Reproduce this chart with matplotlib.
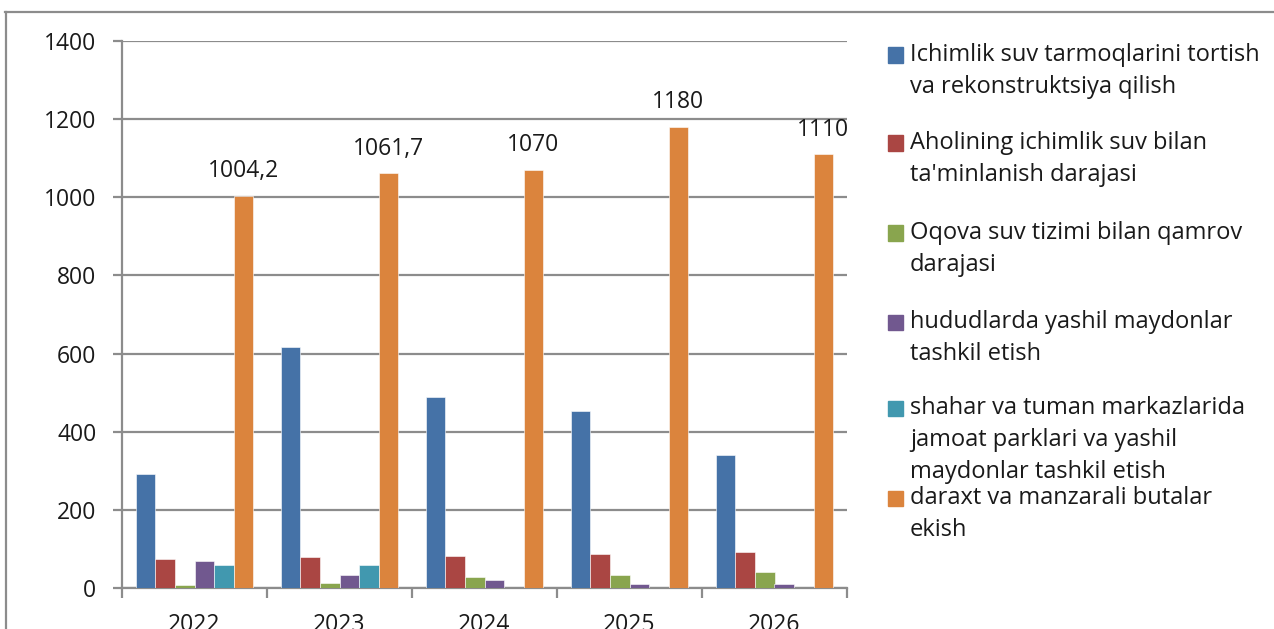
import numpy as np
import matplotlib.pyplot as plt
from matplotlib.patches import Rectangle
from matplotlib.lines import Line2D

plt.rcParams['font.family'] = ['Open Sans', 'DejaVu Sans']

years = ["2022", "2023", "2024", "2025", "2026"]
series_names = [
    ["Ichimlik suv tarmoqlarini tortish", "va rekonstruktsiya qilish"],
    ["Aholining ichimlik suv bilan", "ta'minlanish darajasi"],
    ["Oqova suv tizimi bilan qamrov", "darajasi"],
    ["hududlarda yashil maydonlar", "tashkil etish"],
    ["shahar va tuman markazlarida", "jamoat parklari va yashil", "maydonlar tashkil etish"],
    ["daraxt va manzarali butalar", "ekish"],
]
water_net = [292, 617, 489, 453, 340]
water_supply = [74, 79, 83, 86, 92]
sewer = [7, 14, 27, 33, 40]
green_areas = [70, 33, 20, 10, 10]
parks = [60, 60, 0, 0, 0]
trees = [1004.2, 1061.7, 1070, 1180, 1110]
tree_labels = ["1004,2", "1061,7", "1070", "1180", "1110"]

colors = ["#4572A7", "#AA4643", "#89A54E", "#71588F", "#4198AF", "#DB843D"]
series = [water_net, water_supply, sewer, green_areas, parks, trees]

W, H = 1274, 629
fs = 16.5
txt_c = "#1a1a1a"
fig = plt.figure(figsize=(W / 100, H / 100), dpi=100)
ax = fig.add_axes([122 / W, 1 - 588 / H, (847 - 122) / W, (588 - 41) / H])

x = np.arange(len(years))
bw = 0.1345
for i, (vals, c) in enumerate(zip(series, colors)):
    bars = ax.bar(x + (i - 2.5) * bw, vals, bw, color=c, edgecolor="white",
                  linewidth=0.4, zorder=3)
    if i == 5:
        for b, lab in zip(bars, tree_labels):
            ax.annotate(lab, (b.get_x() + b.get_width() / 2, b.get_height()),
                        xytext=(0, 9), textcoords="offset points",
                        ha="center", va="bottom", fontsize=fs, color=txt_c)

grid_c = "#8c8c8c"
ax.set_xlim(-0.5, 4.5)
ax.set_ylim(0, 1400)
ax.set_yticks(range(0, 1401, 200))
ax.yaxis.grid(True, color=grid_c, lw=1.6, zorder=0)
ax.set_xticks(x)
ax.set_xticklabels(years)
ax.set_xticks(np.arange(-0.5, 5, 1), minor=True)
ax.tick_params(axis="x", which="major", length=0, pad=18, labelsize=fs,
               labelcolor=txt_c)
ax.tick_params(axis="x", which="minor", length=7, width=1.6, color=grid_c,
               direction="out")
ax.tick_params(axis="y", length=6.5, width=1.6, color=grid_c, pad=12,
               labelsize=fs, labelcolor=txt_c)
for s in ["top", "right"]:
    ax.spines[s].set_visible(False)
for s in ["left", "bottom"]:
    ax.spines[s].set_color(grid_c)
    ax.spines[s].set_linewidth(1.6)

# outer chart frame
fig.add_artist(Line2D([5 / W, 1.0], [1 - 12 / H, 1 - 12 / H], color=grid_c, lw=1.6))
fig.add_artist(Line2D([6 / W, 6 / W], [0, 1 - 12 / H], color=grid_c, lw=1.6))

# legend drawn line by line
entry_y = [55, 143, 233, 322, 408, 498]
line_h = 32
for lines, c, y0 in zip(series_names, colors, entry_y):
    fig.add_artist(Rectangle((888 / W, 1 - (y0 + 7.5) / H), 15 / W, 15 / H,
                             color=c, transform=fig.transFigure))
    for k, t in enumerate(lines):
        fig.text(910 / W, 1 - (y0 + k * line_h) / H, t, ha="left", va="center",
                 fontsize=17, color=txt_c)

fig.savefig("out.png", dpi=100)
